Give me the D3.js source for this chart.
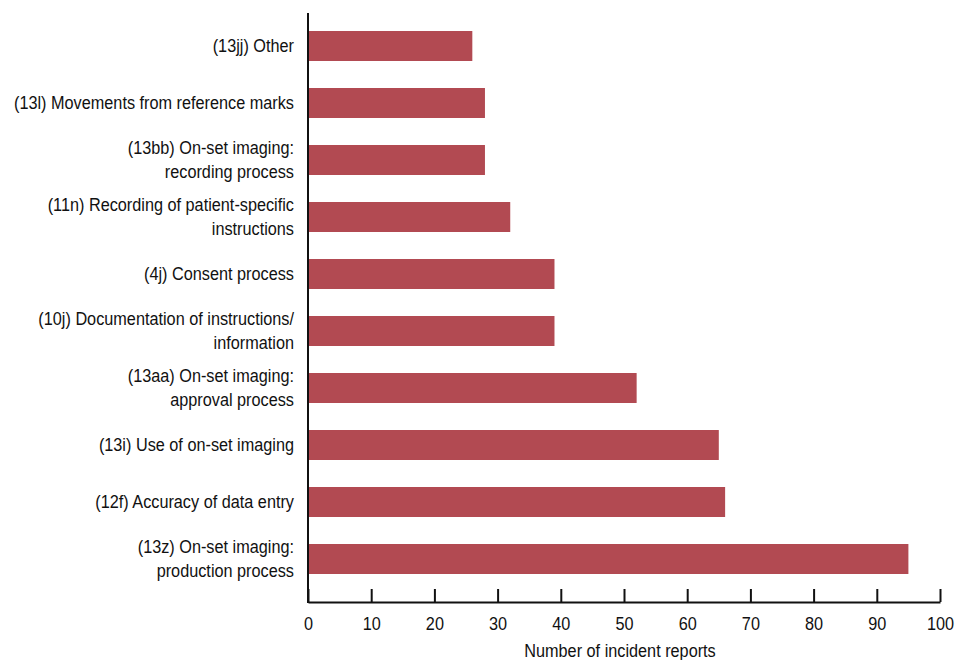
<!DOCTYPE html>
<html>
<head>
<meta charset="utf-8">
<script src="https://cdn.jsdelivr.net/npm/d3@7"></script>
<style>
  body { margin: 0; background: #fff; }
  svg text { font-family: "Liberation Sans", Arial, sans-serif; fill: #111; }
</style>
</head>
<body>
<svg id="chart" width="962" height="660"></svg>
<script>
const categories = [
  ["(13jj) Other"],
  ["(13l) Movements from reference marks"],
  ["(13bb) On-set imaging:", "recording process"],
  ["(11n) Recording of patient-specific", "instructions"],
  ["(4j) Consent process"],
  ["(10j) Documentation of instructions/", "information"],
  ["(13aa) On-set imaging:", "approval process"],
  ["(13i) Use of on-set imaging"],
  ["(12f) Accuracy of data entry"],
  ["(13z) On-set imaging:", "production process"]
];
const values = [26, 28, 28, 32, 39, 39, 52, 65, 66, 95];
const xTicks = [0, 10, 20, 30, 40, 50, 60, 70, 80, 90, 100];
const xTitle = "Number of incident reports";

const svg = d3.select("#chart");
const x0 = 308, x1 = 940, yTop = 13, yBot = 602;
const FS = 17.5, SX = 0.93;
const keys = categories.map((c, i) => i);

const x = d3.scaleLinear().domain([0, 100]).range([x0, x1]);
const y = d3.scaleBand().domain(keys).range([17.5, 587.5]).paddingInner(0.474).paddingOuter(0.237);

// bars
svg.append("g").selectAll("rect").data(values).join("rect")
  .attr("x", x(0))
  .attr("y", (d, i) => y(i))
  .attr("width", d => x(d) - x(0))
  .attr("height", y.bandwidth())
  .attr("fill", "#b24a52");

// x axis
const xAxis = d3.axisBottom(x).tickValues(xTicks).tickSize(-13).tickPadding(16).tickSizeOuter(0);
const gx = svg.append("g").attr("transform", `translate(0,${yBot})`).call(xAxis);
gx.select(".domain").attr("stroke", "#111").attr("stroke-width", 2);
gx.selectAll(".tick line").attr("stroke", "#111").attr("stroke-width", 2);
gx.selectAll(".tick text").attr("font-size", FS).attr("fill", "#111")
  .attr("transform", `scale(${SX},1)`)
  .style("font-family", '"Liberation Sans", Arial, sans-serif');

// y axis line
svg.append("line").attr("x1", x0).attr("x2", x0).attr("y1", yTop).attr("y2", yBot + 1)
  .attr("stroke", "#111").attr("stroke-width", 2);

// category labels
const lab = svg.append("g").selectAll("g").data(categories).join("g")
  .attr("transform", (d, i) => `translate(294,${y(i) + y.bandwidth() / 2}) scale(${SX},1)`)
  .append("text")
  .attr("text-anchor", "end")
  .attr("font-size", FS);
lab.each(function(d) {
  const t = d3.select(this);
  const n = d.length;
  d.forEach((line, j) => {
    t.append("tspan").attr("x", 0)
      .attr("dy", j === 0 ? ((-(n - 1) * 24 / 2) + 6) : 24)
      .text(line);
  });
});

// x title
svg.append("g").attr("transform", `translate(${(x0 + x1) / 2 - 4},657) scale(${SX},1)`)
  .append("text").attr("text-anchor", "middle").attr("font-size", FS).text(xTitle);
</script>
</body>
</html>
